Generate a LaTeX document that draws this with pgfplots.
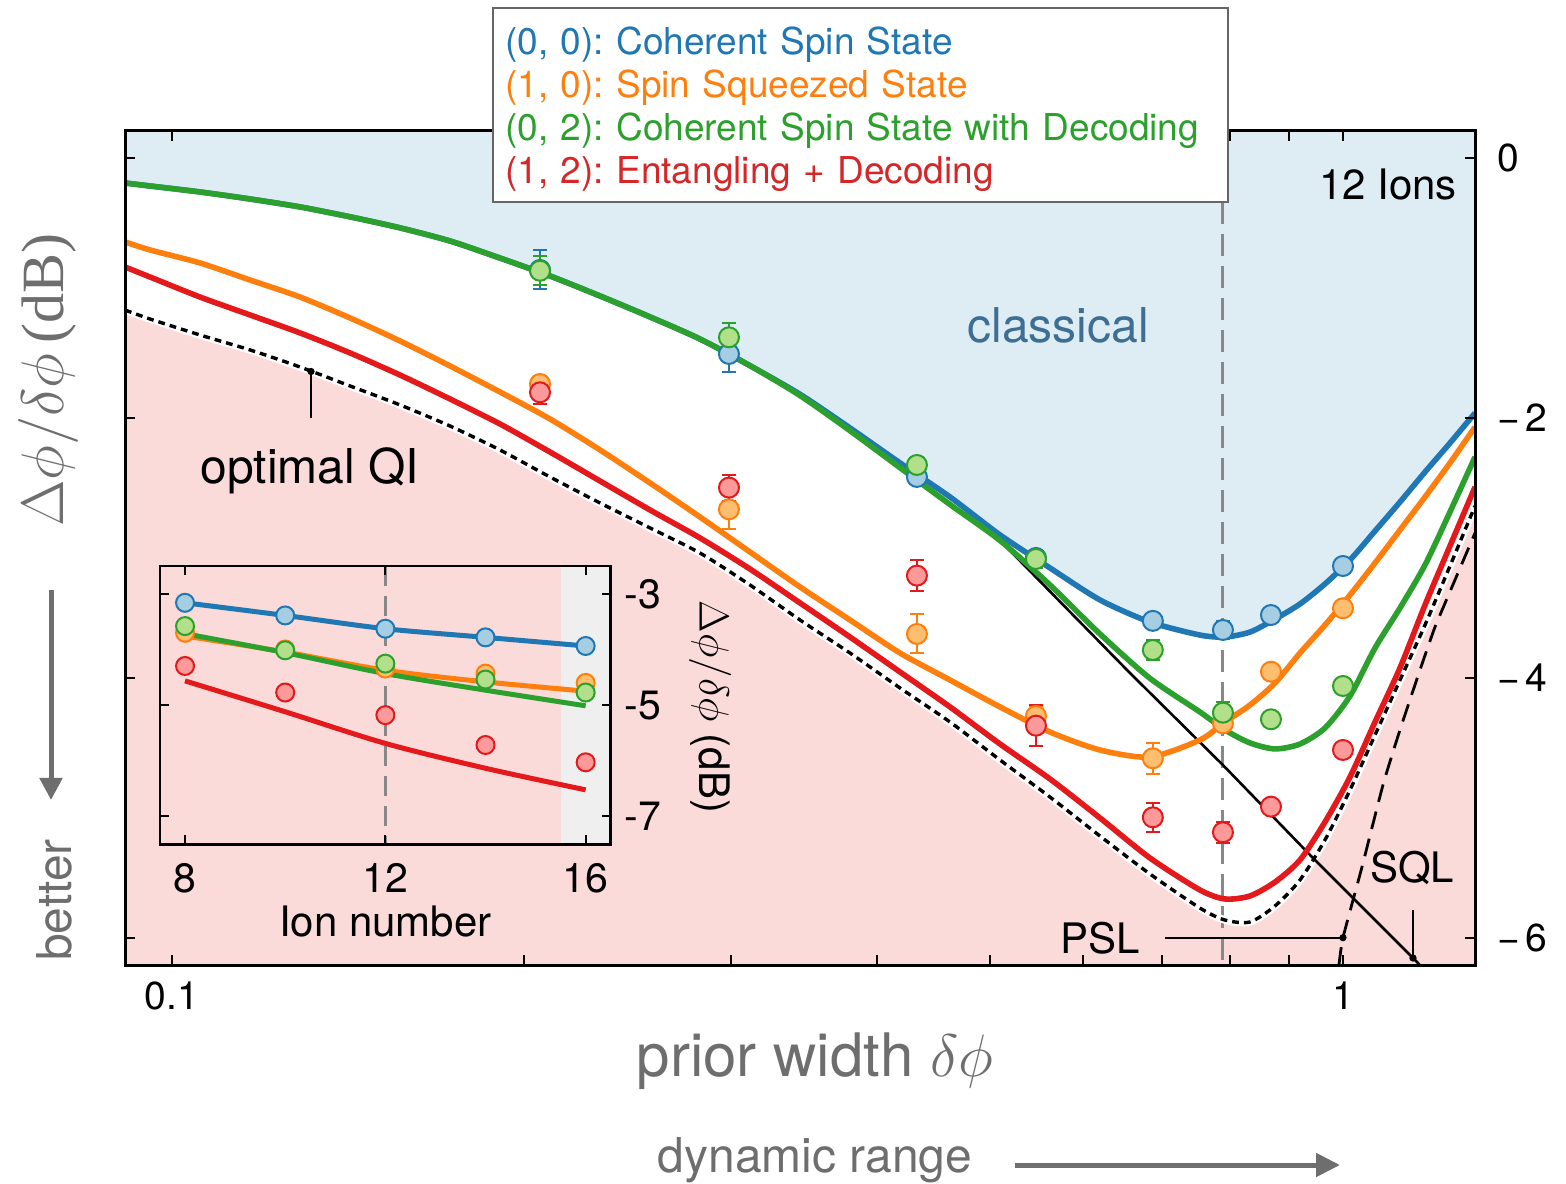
\RequirePackage{fix-cm}
\documentclass[border=0pt]{standalone}
\usepackage[no-math]{fontspec}
\setmainfont{TeX Gyre Heros}
\newfontfamily\serif{Liberation Serif}
\usepackage{pgfplots}
\pgfplotsset{compat=1.18}
\usepackage{pgfplotstable}
\usepgfplotslibrary{fillbetween}
\usetikzlibrary{arrows.meta}

\definecolor{cblue}{HTML}{1F77B4}
\definecolor{corange}{HTML}{FF7F0E}
\definecolor{cgreen}{HTML}{2CA02C}
\definecolor{cred}{HTML}{E3191C}
\definecolor{credtext}{HTML}{D62728}
\definecolor{fblue}{HTML}{A6CEE3}
\definecolor{forange}{HTML}{FDBF6F}
\definecolor{fgreen}{HTML}{B2DF8A}
\definecolor{fred}{HTML}{FB9A99}
\definecolor{bgblue}{HTML}{DEEDF4}
\definecolor{bgpink}{HTML}{FBDADA}
\definecolor{bandgray}{HTML}{EFEFEF}
\definecolor{labelgray}{HTML}{6E6E6E}
\definecolor{classblue}{HTML}{3E6E93}
\definecolor{dashgray}{HTML}{888888}
\definecolor{framegray}{HTML}{666666}

% theory curves on a common grid of prior widths (dB)
\pgfplotstableread{
x       blue   green  orange red    qi
0.09118 -0.195 -0.195 -0.648 -0.841 -1.172
0.09577 -0.218 -0.218 -0.710 -0.918 -1.241
0.10566 -0.264 -0.264 -0.810 -1.072 -1.364
0.11658 -0.318 -0.318 -0.941 -1.210 -1.479
0.12862 -0.379 -0.379 -1.072 -1.348 -1.610
0.14191 -0.455 -0.455 -1.233 -1.502 -1.756
0.15657 -0.540 -0.540 -1.410 -1.672 -1.902
0.17275 -0.641 -0.641 -1.602 -1.856 -2.064
0.19059 -0.772 -0.772 -1.802 -2.048 -2.248
0.21028 -0.910 -0.910 -2.010 -2.264 -2.456
0.23201 -1.064 -1.064 -2.248 -2.487 -2.656
0.25598 -1.225 -1.225 -2.502 -2.710 -2.848
0.28242 -1.395 -1.395 -2.764 -2.925 -3.041
0.31160 -1.600 -1.600 -3.033 -3.164 -3.287
0.34380 -1.820 -1.830 -3.302 -3.425 -3.556
0.37932 -2.079 -2.100 -3.556 -3.687 -3.810
0.41851 -2.348 -2.385 -3.810 -3.956 -4.079
0.46175 -2.610 -2.668 -4.018 -4.225 -4.341
0.50946 -2.902 -2.945 -4.225 -4.510 -4.633
0.56210 -3.156 -3.287 -4.418 -4.779 -4.918
0.62018 -3.402 -3.664 -4.556 -5.079 -5.218
0.68424 -3.572 -4.005 -4.610 -5.387 -5.510
0.75494 -3.672 -4.264 -4.479 -5.633 -5.772
0.79303 -3.687 -4.402 -4.341 -5.702 -5.864
0.83298 -3.649 -4.502 -4.210 -5.679 -5.879
0.87490 -3.549 -4.548 -4.041 -5.572 -5.756
0.91897 -3.433 -4.510 -3.810 -5.402 -5.556
0.96524 -3.279 -4.387 -3.595 -5.110 -5.248
1.0139  -3.095 -4.141 -3.364 -4.764 -4.864
1.0650  -2.872 -3.772 -3.118 -4.341 -4.441
1.1186  -2.649 -3.464 -2.864 -3.925 -4.018
1.1750  -2.418 -3.133 -2.610 -3.441 -3.595
1.2342  -2.195 -2.725 -2.348 -2.987 -3.141
1.2965  -1.964 -2.302 -2.072 -2.533 -2.679
}\curves

% measured points: prior width, dB, error
\pgfplotstableread{
x      y      e
0.2062 -0.864 0.15
0.2990 -1.510 0.14
0.4327 -2.456 0.05
0.5468 -3.079 0.05
0.6881 -3.563 0.05
0.7899 -3.633 0.07
0.8680 -3.518 0.05
1.0    -3.141 0.05
}\ptsblue
\pgfplotstableread{
x      y      e
0.2062 -1.741 0.06
0.2990 -2.705 0.15
0.4327 -3.664 0.15
0.5468 -4.295 0.08
0.6881 -4.620 0.12
0.7899 -4.351 0.05
0.8680 -3.954 0.04
1.0    -3.466 0.04
}\ptsorange
\pgfplotstableread{
x      y      e
0.2062 -0.870 0.11
0.2990 -1.382 0.11
0.4327 -2.364 0.06
0.5468 -3.087 0.07
0.6881 -3.787 0.08
0.7899 -4.269 0.08
0.8680 -4.320 0.04
1.0    -4.064 0.04
}\ptsgreen
\pgfplotstableread{
x      y      e
0.2062 -1.805 0.09
0.2990 -2.538 0.10
0.4327 -3.215 0.12
0.5468 -4.369 0.16
0.6881 -5.074 0.11
0.7899 -5.189 0.08
0.8680 -4.992 0.04
1.0    -4.556 0.04
}\ptsred

\pgfplotsset{
  pts/.style 2 args={only marks, mark=*, mark size=5pt,
    mark options={draw=#1, fill=#2, line width=1pt},
    error bars/.cd, y dir=both, y explicit,
    error bar style={draw=#1, line width=1pt},
    error mark options={draw=#1, rotate=90, mark size=3.5pt, line width=1pt}},
  ipts/.style 2 args={only marks, mark=*, mark size=4.5pt,
    mark options={draw=#1, fill=#2, line width=1pt}},
  curve/.style={#1, line width=2.8pt, smooth, tension=0.45, line join=round},
}

\begin{document}
\frenchspacing
\begin{tikzpicture}

\begin{axis}[
  at={(62.5pt,109pt)}, anchor=south west, scale only axis,
  width=675pt, height=417pt,
  xmode=log, xmin=0.09118, xmax=1.2965, ymin=-6.21, ymax=0.205,
  xtick={0.1,1}, xticklabels={0.1,1},
  minor xtick={0.2,0.3,0.4,0.5,0.6,0.7,0.8,0.9},
  ytick={-6,-4,-2,0}, yticklabels={−\kern3pt6,−\kern3pt4,−\kern3pt2,0},
  tick pos=both, xticklabel pos=left, yticklabel pos=right,
  tick align=inside, major tick length=5pt, minor tick length=5pt,
  every tick/.style={black, line width=1pt},
  axis line style={line width=1.5pt},
  tick label style={font=\fontsize{19.5}{19.5}\selectfont},
  xticklabel style={yshift=-5pt},
  yticklabel style={xshift=7.5pt},
  axis on top,
]
% classical region above the coherent-state curve, forbidden region below optimal QI
\addplot[draw=none, smooth, tension=0.45, name path=bluepath] table[x=x,y=blue]{\curves};
\addplot[draw=none, name path=toppath] coordinates {(0.09,0.4) (1.31,0.4)};
\addplot[bgblue] fill between[of=bluepath and toppath];
\addplot[draw=none, smooth, tension=0.45, name path=qipath] table[x=x,y=qi]{\curves};
\addplot[draw=none, name path=botpath] coordinates {(0.09,-6.4) (1.31,-6.4)};
\addplot[bgpink] fill between[of=qipath and botpath];

% 12 ions operating point
\addplot[dashgray, line width=1.5pt, dash pattern=on 11pt off 5pt] coordinates {(0.7899,0.4) (0.7899,-6.4)};

% optimal QI bound
\addplot[white, line width=3.8pt, smooth, tension=0.45] table[x=x,y=qi]{\curves};
\addplot[black, line width=1.7pt, smooth, tension=0.45, dash pattern=on 3.4pt off 2.5pt] table[x=x,y=qi]{\curves};

% SQL
\addplot[black, line width=1.4pt, dash pattern=on 9pt off 5pt, smooth, tension=0.3] coordinates {
 (0.99216,-6.21) (1.0,-6.0) (1.0381,-5.456) (1.0818,-4.826) (1.1164,-4.426)
 (1.1635,-3.941) (1.1984,-3.610) (1.2464,-3.248) (1.2965,-2.887)};

% PSL
\addplot[black, line width=1.3pt] coordinates {
 (0.50946,-2.945) (0.6578,-3.964) (0.7899,-4.672) (0.9409,-5.379) (1.1476,-6.156) (1.1750,-6.25)};

% theory curves
\addplot[curve=cblue] table[x=x,y=blue]{\curves};
\addplot[curve=corange] table[x=x,y=orange]{\curves};
\addplot[curve=cgreen] table[x=x,y=green]{\curves};
\addplot[curve=cred] table[x=x,y=red]{\curves};

% annotation pointers
\addplot[black, line width=0.8pt] coordinates {(0.7047,-6.0) (1.0,-6.0)};
\addplot[black, line width=0.7pt] coordinates {(1.1476,-5.79) (1.1476,-6.156)};
\addplot[black, line width=0.9pt] coordinates {(0.13144,-1.645) (0.13144,-2.002)};
\addplot[only marks, mark=*, mark size=1.6pt, black] coordinates {(1.0,-6.0) (1.1476,-6.156) (0.13144,-1.645)};

% measurements
\addplot[pts={cblue}{fblue}] table[x=x,y=y,y error=e]{\ptsblue};
\addplot[pts={corange}{forange}] table[x=x,y=y,y error=e]{\ptsorange};
\addplot[pts={cgreen}{fgreen}] table[x=x,y=y,y error=e]{\ptsgreen};
\addplot[pts={cred}{fred}] table[x=x,y=y,y error=e]{\ptsred};
\end{axis}

% inset: scaling with ion number
\begin{axis}[
  at={(80pt,169.35pt)}, anchor=south west, scale only axis,
  width=225.35pt, height=139.15pt,
  xmin=7.5, xmax=16.5, ymin=-7.5, ymax=-2.5,
  xtick={8,12,16}, xticklabels={8,12,16},
  ytick={-7,-5,-3}, yticklabels={-7,-5,-3},
  tick pos=both, xticklabel pos=left, yticklabel pos=right,
  tick align=inside, major tick length=4.5pt,
  every tick/.style={black, line width=1pt},
  axis line style={line width=1.3pt},
  tick label style={font=\fontsize{20.5}{20.5}\selectfont},
  xticklabel style={yshift=-6pt},
  yticklabel style={xshift=3.5pt},
  xlabel={Ion number},
  xlabel style={at={(axis description cs:0.5,-0.279)}, anchor=center, font=\fontsize{21}{21}\selectfont},
  axis background/.style={fill=bgpink},
  axis on top,
]
\addplot[fill=bandgray, draw=none] coordinates {(15.5,-7.6) (16.6,-7.6) (16.6,-2.4) (15.5,-2.4)};
\addplot[dashgray, line width=1.3pt, dash pattern=on 10pt off 5pt] coordinates {(12,-2.5) (12,-7.5)};

\addplot[cblue, line width=2.5pt, smooth] coordinates {(8,-3.161) (10,-3.388) (12,-3.627) (14,-3.782) (16,-3.937)};
\addplot[ipts={cblue}{fblue}] coordinates {(8,-3.161) (10,-3.388) (12,-3.627) (14,-3.782) (16,-3.937)};
\addplot[corange, line width=2.5pt, smooth] coordinates {(8,-3.758) (10,-4.045) (12,-4.373) (14,-4.582) (16,-4.749)};
\addplot[ipts={corange}{forange}] coordinates {(8,-3.70) (10,-4.00) (12,-4.343) (14,-4.433) (16,-4.60)};
\addplot[cgreen, line width=2.5pt, smooth] coordinates {(8,-3.716) (10,-4.057) (12,-4.433) (14,-4.731) (16,-5.012)};
\addplot[ipts={cgreen}{fgreen}] coordinates {(8,-3.579) (10,-4.015) (12,-4.254) (14,-4.540) (16,-4.773)};
\addplot[cred, line width=2.5pt, smooth] coordinates {(8,-4.564) (10,-5.119) (12,-5.687) (14,-6.134) (16,-6.522)};
\addplot[ipts={cred}{fred}] coordinates {(8,-4.296) (10,-4.773) (12,-5.179) (14,-5.716) (16,-6.027)};
\end{axis}

% inset y label
\node[rotate=-90, font=\fontsize{21}{21}\selectfont] at (355pt,238pt) {$\Delta\phi/\delta\phi$ (dB)};

% region and curve labels
\node[font=\fontsize{24}{24}\selectfont, text=classblue] at (529pt,429pt) {classical};
\node[font=\fontsize{24}{24}\selectfont] at (155pt,356pt) {optimal QI};
\node[font=\fontsize{21}{21}\selectfont] at (694pt,499pt) {12 Ions};
\node[font=\fontsize{21}{21}\selectfont] at (550pt,122.5pt) {PSL};
\node[font=\fontsize{21}{21}\selectfont] at (706pt,157.5pt) {SQL};

% axis titles
\node[rotate=90, font=\fontsize{30}{30}\selectfont, text=labelgray] at (24pt,401.5pt) {$\Delta\phi/\delta\phi$\,{\serif (dB)}};
\node[rotate=90, font=\fontsize{24}{24}\selectfont, text=labelgray] at (27pt,141.5pt) {better};
\draw[labelgray, line width=2.5pt, -{Triangle[length=11pt,width=11pt]}] (25.5pt,296.5pt) -- (25.5pt,191.5pt);
\node[font=\fontsize{30}{30}\selectfont, text=labelgray] at (407.5pt,61pt) {prior width $\delta\phi$};
\node[font=\fontsize{24}{24}\selectfont, text=labelgray] at (407.5pt,11.5pt) {dynamic range};
\draw[labelgray, line width=2.5pt, -{Triangle[length=12pt,width=11.5pt]}] (507.5pt,9pt) -- (670pt,9pt);

% legend, above the frame of the main axis
\begin{pgfonlayer}{axis foreground}
\draw[framegray, line width=1pt, fill=white] (246.5pt,587.5pt) rectangle (614pt,490.5pt);
\node[anchor=west, inner sep=0pt, text width=355pt, align=left,
      font=\fontsize{18.5}{21.5}\selectfont] at (252.5pt,537pt)
  {\textcolor{cblue}{(0, 0): Coherent Spin State}\\
   \textcolor{corange}{(1, 0): Spin Squeezed State}\\
   \textcolor{cgreen}{(0, 2): Coherent Spin State with Decoding}\\
   \textcolor{credtext}{(1, 2): Entangling + Decoding}};
\end{pgfonlayer}

% page frame
\pgfresetboundingbox
\useasboundingbox (0,0) rectangle (783pt,591.5pt);
\end{tikzpicture}
\end{document}
